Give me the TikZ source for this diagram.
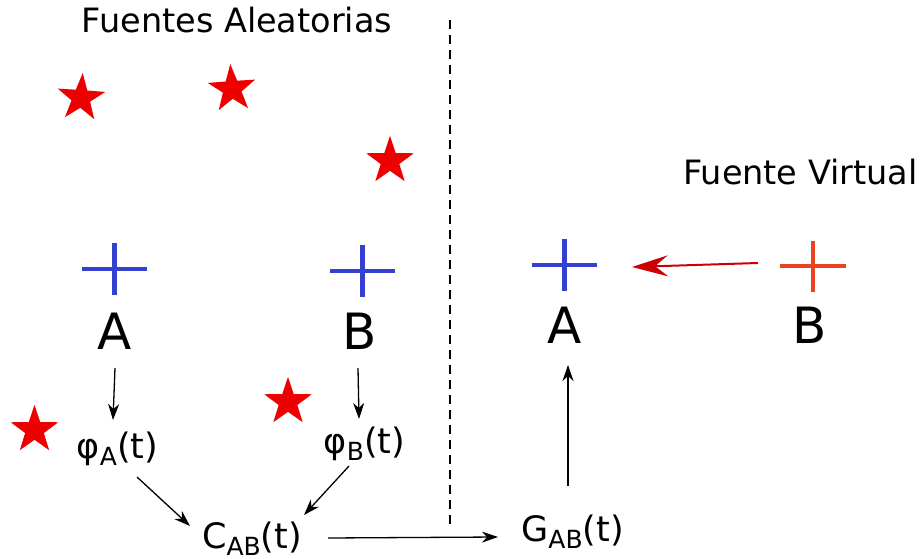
\documentclass[tikz,border=0pt]{standalone}
\usepackage{fontspec}
\setmainfont{DejaVu Sans}
\usetikzlibrary{arrows.meta,shapes.geometric,calc}
\definecolor{crossblue}{HTML}{3440CF}
\definecolor{crossred}{HTML}{EA4320}
\definecolor{arrowred}{HTML}{CC0000}
\definecolor{starred}{HTML}{EE0000}
\newcommand\mysub[1]{\raisebox{-0.2em}{\fontsize{25}{30}\selectfont #1}}
\begin{document}
\begin{tikzpicture}[x=1pt,y=1pt,
  txt/.style={inner sep=0, anchor=base, font=\fontsize{35}{42}\selectfont},
  big/.style={inner sep=0, anchor=base, font=\fontsize{50}{60}\selectfont},
  ttl/.style={inner sep=0, anchor=base, font=\fontsize{33.5}{40}\selectfont},
  arr/.style={-{Stealth[length=16pt,width=11pt,inset=5pt]}, line width=1.3pt},
  redarr/.style={-{Stealth[length=36pt,width=21pt,inset=13pt]}, line width=2pt, draw=arrowred, fill=arrowred},
  cross/.style={line width=4.4pt},
  src/.style={star, star points=5, star point ratio=2.55, fill=starred, inner sep=0, minimum size=50pt},
  sep/.style={line width=1.5pt, dash pattern=on 9pt off 6pt}]
\useasboundingbox (0,0) rectangle (924,-559);

% titles
\node[ttl] (title1) at (237,-33) {Fuentes Aleatorias};
\node[ttl] (title2) at (800.5,-184) {Fuente Virtual};

% separator
\coordinate (dtop) at (450,-20);
\coordinate (dbot) at (450,-525);
\draw[sep] (dtop) -- (dbot);

% random sources
\node[src, rotate=-4] (s1) at (81,-98) {};
\node[src, rotate=4] (s2) at (232,-89) {};
\node[src] (s3) at (390,-161) {};
\node[src] (s4) at (34.5,-430) {};
\node[src] (s5) at (288,-402) {};

% crosses
\coordinate (xA) at (114.5,-269);
\coordinate (xB) at (362.5,-271);
\coordinate (xA2) at (564.5,-265);
\coordinate (xB2) at (813,-266);
\draw[cross, crossblue] ($(xA)+(-32.5,0)$) -- ++(65,0) ($(xA)+(0,26)$) -- ++(0,-52);
\draw[cross, crossblue] ($(xB)+(-32.5,0)$) -- ++(65,0) ($(xB)+(0,26)$) -- ++(0,-52);
\draw[cross, crossblue] ($(xA2)+(-32.5,0)$) -- ++(65,0) ($(xA2)+(0,26)$) -- ++(0,-52);
\draw[cross, crossred] ($(xB2)+(-33,0)$) -- ++(66,0) ($(xB2)+(0,25.5)$) -- ++(0,-51);

% letters
\node[big] (A1) at (115,-349) {A};
\node[big] (B1) at (360,-349) {B};
\node[big] (A2) at (565,-343) {A};
\node[big] (B2) at (810,-343) {B};

% signals
\node[txt] (phiA) at (117.5,-458.5) {φ\mysub{A}(t)};
\node[txt] (phiB) at (364.5,-453) {φ\mysub{B}(t)};
\node[txt] (CAB) at (252,-548) {C\mysub{AB}(t)};
\node[txt] (GAB) at (572.5,-541) {G\mysub{AB}(t)};

% connectors
\draw[arr] ($(A1.base)+(0,-19)$) -- ($(phiA.base)+(-4.5,38.5)$);
\draw[arr] ($(B1.base)+(-2,-19)$) -- ($(phiB.base)+(-5.5,34)$);
\draw[arr] ($(phiA.base)+(19.5,-18.5)$) -- ($(CAB.base)+(-62,22)$);
\draw[arr] ($(phiB.base)+(-15.5,-13)$) -- ($(CAB.base)+(52,33)$);
\draw[arr] ($(CAB.base)+(76,10)$) -- ($(GAB.base)+(-74.5,4)$);
\draw[arr] ($(GAB.base)+(-4.5,55)$) -- ($(A2.base)+(3,-22)$);
\draw[redarr] ($(xB2)+(-55,3)$) -- ($(xA2)+(67.5,-2)$);
\end{tikzpicture}
\end{document}
